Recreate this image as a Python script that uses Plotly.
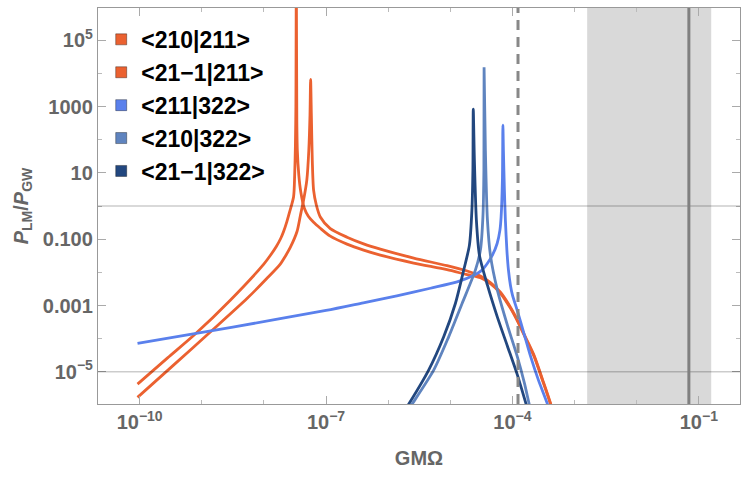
import numpy as np
import plotly.graph_objects as go

# ---- data (log10 of GMΩ, log10 of P_LM/P_GW) ----
lx_210_211 = [-10.034, -9.55, -9.105, -8.541, -8.005, -7.9, -7.8, -7.73, -7.683, -7.63,
              -7.586, -7.522, -7.505, -7.493, -7.485, -7.478, -7.470, -7.462, -7.438, -7.406,
              -7.349, -7.285, -7.2, -7.092, -6.931, -6.662, -6.395, -6.126, -5.589, -5.052,
              -4.729, -4.515, -4.354, -4.193, -4.032, -3.903, -3.775, -3.646, -3.517, -3.388,
              -3.324]
ly_210_211 = [-5.37, -4.58, -3.86, -2.84, -1.76, -1.50, -1.22, -0.98, -0.77, -0.47,
              -0.18, 0.28, 0.9, 1.8, 3.0, 7.0, 2.6, 1.68, 0.93, 0.42,
              -0.07, -0.31, -0.49, -0.67, -0.91, -1.15, -1.33, -1.48, -1.72, -1.92,
              -2.07, -2.16, -2.34, -2.63, -3.08, -3.53, -4.04, -4.56, -5.25, -5.97,
              -6.46]

lx_21m1_211 = [-10.034, -9.45, -8.863, -8.272, -7.95, -7.736, -7.65, -7.575, -7.467, -7.414,
               -7.361, -7.309, -7.277, -7.258, -7.248, -7.236, -7.221, -7.2, -7.156, -7.092,
               -6.931, -6.662, -6.395, -6.126, -5.589, -5.052, -4.729, -4.515, -4.354, -4.193,
               -4.032, -3.903, -3.775, -3.646, -3.517, -3.388, -3.324]
ly_21m1_211 = [-5.77, -4.79, -3.80, -2.79, -2.18, -1.75, -1.50, -1.25, -0.77, -0.30,
               0.18, 0.78, 1.68, 2.74, 3.82, 2.74, 1.38, 0.48, 0.03, -0.33,
               -0.68, -0.94, -1.14, -1.30, -1.57, -1.80, -1.96, -2.11, -2.31, -2.60,
               -3.05, -3.50, -4.01, -4.53, -5.22, -5.94, -6.43]

lx_211_322 = [-10.034, -8.5, -7.0, -6.4, -5.86, -5.32, -4.89, -4.62, -4.499, -4.407,
              -4.322, -4.246, -4.201, -4.182, -4.161, -4.153, -4.145, -4.129, -4.113, -4.089,
              -4.064, -4.032, -4.000, -3.919, -3.807, -3.710, -3.581, -3.436, -3.356]
ly_211_322 = [-4.14, -3.65, -3.15, -2.92, -2.71, -2.48, -2.29, -2.09, -1.95, -1.74,
              -1.482, -1.13, -0.728, -0.33, 0.78, 2.44, 1.68, 0.48, -0.43, -1.33,
              -1.93, -2.39, -2.68, -3.17, -3.89, -4.52, -5.25, -5.97, -6.46]

lx_210_322 = [-5.85, -5.643, -5.267, -5.026, -4.810, -4.596, -4.515, -4.475, -4.459, -4.456,
              -4.435, -4.402, -4.354, -4.242, -4.081, -3.919, -3.807, -3.726, -3.662]
ly_210_322 = [-6.65, -6.055, -4.949, -3.945, -2.94, -1.934, -1.331, -0.336, 1.08, 4.186,
              1.684, -0.427, -1.482, -2.537, -3.592, -4.557, -5.341, -6.004, -6.456]

lx_21m1_322 = [-5.90, -5.696, -5.348, -5.106, -4.918, -4.784, -4.692, -4.652, -4.636, -4.630,
               -4.612, -4.580, -4.531, -4.402, -4.242, -4.081, -3.919, -3.775, -3.710]
ly_21m1_322 = [-6.64, -6.055, -4.949, -3.945, -2.94, -1.934, -1.18, -0.125, 1.08, 2.92,
               1.382, -0.427, -1.482, -2.387, -3.35, -4.22, -5.10, -6.0, -6.40]

series_names = ["&lt;210|211&gt;", "&lt;21−1|211&gt;", "&lt;211|322&gt;",
                "&lt;210|322&gt;", "&lt;21−1|322&gt;"]
series_colors = ["#EB6130", "#EB6130", "#5A80EC", "#5F84BF", "#22477F"]
series_lx = [lx_210_211, lx_21m1_211, lx_211_322, lx_210_322, lx_21m1_322]
series_ly = [ly_210_211, ly_21m1_211, ly_211_322, ly_210_322, ly_21m1_322]

# reference markers (GMΩ values)
dashed_x = 10 ** -3.91
band_x = [10 ** -2.797, 10 ** -0.80]
solid_x = 10 ** -1.16
hlines_y = [1.0, 1e-5]

xtick_vals = [1e-10, 1e-7, 1e-4, 1e-1]
xtick_text = ["10<sup>−10</sup>", "10<sup>−7</sup>", "10<sup>−4</sup>", "10<sup>−1</sup>"]
ytick_vals = [1e5, 1e3, 10, 0.1, 0.001, 1e-5]
ytick_text = ["10<sup>5</sup>", "1000", "10", "0.100", "0.001", "10<sup>−5</sup>"]
xminor = [10.0 ** k for k in range(-11, 1)]
yminor = [10.0 ** k for k in range(-6, 7)]

fig = go.Figure()
for lx, ly, c in zip(series_lx, series_ly, series_colors):
    fig.add_trace(go.Scatter(x=np.power(10.0, lx), y=np.power(10.0, ly), mode="lines",
                             line=dict(color=c, width=2.8, shape="spline", smoothing=0.7),
                             showlegend=False, hoverinfo="skip"))
for n, c in zip(series_names, series_colors):
    fig.add_trace(go.Scatter(x=[None], y=[None], mode="markers", name=n,
                             marker=dict(symbol="square", size=11, color=c,
                                         line=dict(color="rgba(0,0,0,0.35)", width=1))))

fig.add_shape(type="rect", xref="x", yref="paper", x0=band_x[0], x1=band_x[1], y0=0, y1=1,
              fillcolor="#d9d9d9", line_width=0, layer="below")
for yv in hlines_y:
    fig.add_shape(type="line", xref="paper", yref="y", x0=0, x1=1, y0=yv, y1=yv,
                  line=dict(color="rgba(0,0,0,0.2)", width=1.5), layer="above")
fig.add_shape(type="line", xref="x", yref="paper", x0=solid_x, x1=solid_x, y0=0, y1=1,
              line=dict(color="#808080", width=3), layer="above")
fig.add_shape(type="line", xref="x", yref="paper", x0=dashed_x, x1=dashed_x, y0=0, y1=1,
              line=dict(color="#888888", width=3, dash="10px,7px"), layer="above")

axis_font = dict(family="Liberation Sans", size=20, color="#666666", weight="bold")
fig.update_layout(
    width=750, height=482,
    margin=dict(l=98, r=10, t=8, b=78),
    paper_bgcolor="white", plot_bgcolor="white",
    font=dict(family="Liberation Sans"),
    showlegend=True,
    legend=dict(x=0.005, y=0.975, xanchor="left", yanchor="top", bgcolor="rgba(0,0,0,0)",
                font=dict(family="Liberation Sans", size=23, color="black", weight="bold")),
    xaxis=dict(type="log", range=[-10.67, -0.337], showgrid=False, zeroline=False,
               showline=True, linecolor="#999999", linewidth=1.3, mirror="ticks",
               ticks="inside", ticklen=8, tickcolor="#aaaaaa", tickwidth=1,
               tickmode="array", tickvals=xtick_vals, ticktext=xtick_text,
               tickfont=axis_font,
               minor=dict(tickmode="array", tickvals=xminor, ticks="inside", ticklen=4,
                          tickcolor="#bbbbbb"),
               title=dict(text="GMΩ", font=axis_font, standoff=18)),
    yaxis=dict(type="log", range=[-5.97, 5.97], showgrid=False, zeroline=False,
               showline=True, linecolor="#999999", linewidth=1.3, mirror="ticks",
               ticks="inside", ticklen=8, tickcolor="#aaaaaa", tickwidth=1,
               tickmode="array", tickvals=ytick_vals, ticktext=ytick_text,
               tickfont=axis_font,
               minor=dict(tickmode="array", tickvals=yminor, ticks="inside", ticklen=4,
                          tickcolor="#bbbbbb"),
               title=dict(text="<i>P</i><sub>LM</sub>/<i>P</i><sub>GW</sub>", font=axis_font,
                          standoff=8)),
)
fig.write_html("out.html")
